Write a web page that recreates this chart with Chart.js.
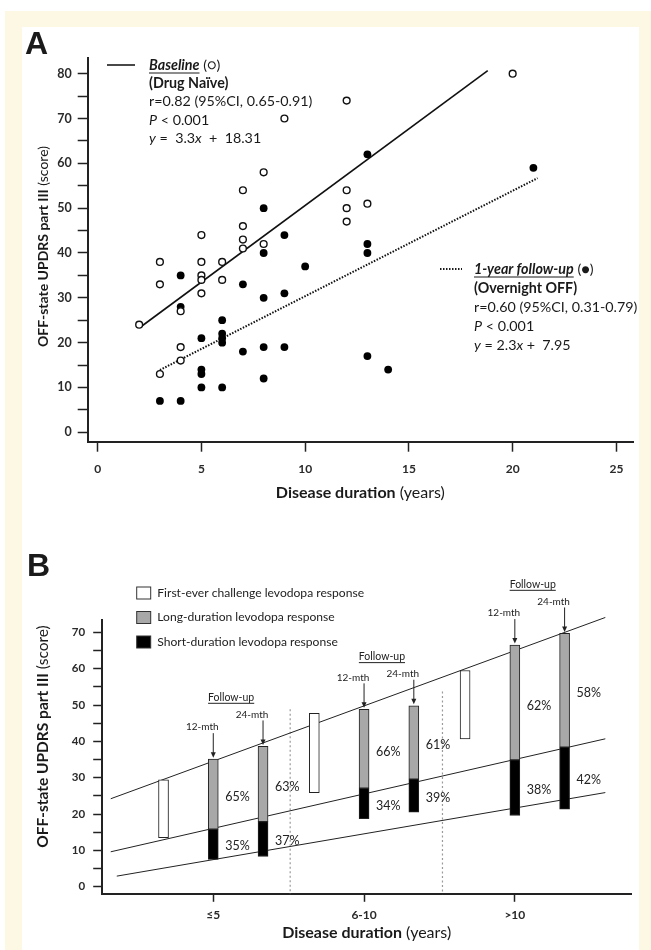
<!DOCTYPE html>
<html lang="en">
<head>
<meta charset="UTF-8" />
<title>OFF-state UPDRS part III vs disease duration</title>
<script src="https://cdn.jsdelivr.net/npm/chart.js@4.4.1/dist/chart.umd.min.js"></script>
<style>
    * { margin: 0; padding: 0; box-sizing: border-box; }
    body { width: 651px; height: 950px; background: #ffffff; position: relative; overflow: hidden; }
    .frame { position: absolute; left: 5px; top: 11px; width: 646px; height: 939px; background: #fdf8e4; }
    .panel { position: absolute; left: 22px; top: 27px; width: 617px; height: 923px; background: #ffffff; }
    #chartA { position: absolute; left: 22px; top: 27px; width: 617px; height: 513px; }
    #chartB { position: absolute; left: 22px; top: 540px; width: 617px; height: 410px; }
</style>
</head>
<body>
<div class="frame"></div>
<div class="panel"></div>
<canvas id="chartA" width="617" height="513"></canvas>
<canvas id="chartB" width="617" height="410"></canvas>
<script>
// ---------- panel A: scatter ----------
const baselineX = [2, 3, 3, 3, 4, 4, 4, 5, 5, 5, 5, 5, 6, 6, 7, 7, 7, 7, 8, 8, 9, 12, 12, 12, 12, 13, 20];
const baselineY = [24, 38, 33, 13, 27, 19, 16, 44, 38, 35, 34, 31, 38, 34, 54, 46, 43, 41, 58, 42, 70, 74, 54, 50, 47, 51, 80];
const followX = [3, 4, 4, 4, 5, 5, 5, 5, 6, 6, 6, 6, 6, 7, 7, 8, 8, 8, 8, 8, 9, 9, 9, 10, 13, 13, 13, 13, 14, 21];
const followY = [7, 7, 28, 35, 10, 13, 14, 21, 10, 20, 21, 22, 25, 18, 33, 12, 19, 30, 40, 50, 19, 31, 44, 37, 17, 40, 42, 62, 14, 59];
const baselineFitX = [2.1, 18.8];
const baselineFitY = [23.6, 80.7];
const followFitX = [3.0, 21.2];
const followFitY = [13.9, 56.7];
const xTicksA = [0, 5, 10, 15, 20, 25];
const yTicksA = [0, 5, 10, 15, 20, 25, 30, 35, 40, 45, 50, 55, 60, 65, 70, 75, 80];

// ---------- panel B: levodopa response bars ----------
const categories = ["≤5", "6-10", ">10"];
const catPos = [1, 2, 3];
const barOffset = [-0.33, 0, 0.33];          // first-ever, 12-mth, 24-mth
const firstEverLow = [13.5, 25.9, 40.7];
const firstEverHigh = [29.4, 47.7, 59.5];
const followLabels = ["12-mth", "24-mth"];
const longHigh = [35.1, 38.6, 48.8, 49.8, 66.5, 69.7];
const longLow = [15.8, 17.9, 27.1, 29.6, 34.9, 38.4];
const shortLow = [7.5, 8.3, 18.7, 20.5, 19.6, 21.3];
const longPct = [65, 63, 66, 61, 62, 58];
const shortPct = [35, 37, 34, 39, 38, 42];
const trendTopX = [0.32, 3.6], trendTopY = [24.2, 74.1];
const trendMidX = [0.32, 3.6], trendMidY = [9.6, 40.7];
const trendLowX = [0.36, 3.6], trendLowY = [2.9, 25.9];
const sepX = [1.51, 2.52];
const sepTop = [48.8, 53.7];
const yTicksB = [0, 5, 10, 15, 20, 25, 30, 35, 40, 45, 50, 55, 60, 65, 70];

const yMinA = -2.1, yMaxA = 83.5, xMinA = -0.48, xMaxA = 25.8;
const yMinB = -2.1, yMaxB = 73.4, xMinB = 0.26, xMaxB = 3.775;

Chart.defaults.font.family = 'Lato, "Open Sans", sans-serif';
Chart.defaults.color = "#333";

const pairs = (xs, ys) => xs.map((x, i) => ({ x: x, y: ys[i] }));
const F = (size, weight = "normal", style = "normal") => `${style} ${weight} ${size}px Lato, "Open Sans", sans-serif`;

// draw a line of text made of runs with their own font (and optional underline)
function drawRuns(ctx, x, y, runs, align) {
    let total = 0;
    runs.forEach(r => { ctx.font = r[1]; total += ctx.measureText(r[0]).width; });
    let cx = align === "center" ? x - total / 2 : x;
    ctx.textAlign = "left";
    ctx.textBaseline = "middle";
    runs.forEach(r => {
        ctx.font = r[1];
        const w = ctx.measureText(r[0]).width;
        ctx.fillText(r[0], cx, y);
        if (r[2]) {
            const size = parseFloat(r[1].split("px")[0].split(" ").pop());
            ctx.lineWidth = 1;
            ctx.beginPath();
            ctx.moveTo(cx, y + size * 0.56);
            ctx.lineTo(cx + w, y + size * 0.56);
            ctx.stroke();
        }
        cx += w;
    });
}

const panelAText = {
    id: "panelAText",
    afterDraw(chart) {
        const ctx = chart.ctx;
        const area = chart.chartArea;
        ctx.save();
        ctx.fillStyle = "#1a1a1a";
        ctx.strokeStyle = "#1a1a1a";
        ctx.font = 'bold 32px "Liberation Sans", Arial, sans-serif';
        ctx.textBaseline = "alphabetic";
        ctx.fillText("A", 3, 26.5);

        // axis titles
        drawRuns(ctx, (area.left + area.right) / 2, 466, [["Disease duration", F(16, "bold")], [" (years)", F(16)]], "center");
        ctx.save();
        ctx.translate(21, 219.5);
        ctx.rotate(-Math.PI / 2);
        drawRuns(ctx, 0, 0, [["OFF-state UPDRS part III", F(14, "bold")], [" (score)", F(14)]], "center");
        ctx.restore();

        // baseline legend
        ctx.lineWidth = 1.6;
        ctx.beginPath(); ctx.moveTo(85, 38); ctx.lineTo(113, 38); ctx.stroke();
        const s = 14.3, lh = 18.3;
        const legA = [
            [["Baseline", F(s, "bold", "italic"), true], [" (○)", F(s)]],
            [["(Drug Naïve)", F(s, "bold")]],
            [["r=0.82 (95%CI, 0.65-0.91)", F(s)]],
            [["P", F(s, "normal", "italic")], [" < 0.001", F(s)]],
            [["y", F(s, "normal", "italic")], [" =  3.3", F(s)], ["x", F(s, "normal", "italic")], ["  +  18.31", F(s)]]
        ];
        legA.forEach((row, i) => drawRuns(ctx, 127, 38 + i * lh, row, "left"));

        // follow-up legend
        ctx.lineWidth = 2;
        ctx.setLineDash([1.5, 1.5]);
        ctx.beginPath(); ctx.moveTo(418, 242); ctx.lineTo(440, 242); ctx.stroke();
        ctx.setLineDash([]);
        const legB = [
            [["1-year follow-up", F(s, "bold", "italic"), true], [" (●)", F(s)]],
            [["(Overnight OFF)", F(s, "bold")]],
            [["r=0.60 (95%CI, 0.31-0.79)", F(s)]],
            [["P", F(s, "normal", "italic")], [" < 0.001", F(s)]],
            [["y", F(s, "normal", "italic")], [" = 2.3", F(s)], ["x", F(s, "normal", "italic")], [" +  7.95", F(s)]]
        ];
        legB.forEach((row, i) => drawRuns(ctx, 452, 242 + i * 19.2, row, "left"));
        ctx.restore();
    }
};

new Chart(document.getElementById("chartA"), {
    type: "scatter",
    data: {
        datasets: [
            {
                label: "Baseline",
                data: pairs(baselineX, baselineY),
                pointRadius: 3.4,
                backgroundColor: "#ffffff",
                borderColor: "#111",
                borderWidth: 1.4
            },
            {
                label: "1-year follow-up",
                data: pairs(followX, followY),
                pointRadius: 3.9,
                backgroundColor: "#000",
                borderColor: "#000",
                borderWidth: 0
            },
            {
                label: "Baseline fit",
                data: pairs(baselineFitX, baselineFitY),
                showLine: true,
                pointRadius: 0,
                borderColor: "#111",
                borderWidth: 1.6
            },
            {
                label: "Follow-up fit",
                data: pairs(followFitX, followFitY),
                showLine: true,
                pointRadius: 0,
                borderColor: "#111",
                borderWidth: 2,
                borderDash: [1.5, 1.5]
            }
        ]
    },
    options: {
        responsive: false,
        animation: false,
        layout: { padding: { top: 31, right: 6, left: 0, bottom: 0 } },
        plugins: { legend: { display: false }, tooltip: { enabled: false } },
        scales: {
            x: {
                type: "linear",
                min: xMinA,
                max: xMaxA,
                afterBuildTicks: (s) => { s.ticks = xTicksA.map(v => ({ value: v })); },
                afterFit: (s) => { s.height = 513 - 414.7; },
                grid: { drawOnChartArea: false, tickLength: 10, tickWidth: 1.5, color: "#222" },
                border: { color: "#222", width: 2 },
                ticks: { font: { size: 12, weight: "bold" }, color: "#2a2a2a", padding: 10, maxRotation: 0, autoSkip: false }
            },
            y: {
                min: yMinA,
                max: yMaxA,
                afterBuildTicks: (s) => { s.ticks = yTicksA.map(v => ({ value: v })); },
                afterFit: (s) => { s.width = 65.7; },
                grid: { drawOnChartArea: false, tickLength: 10, tickWidth: 1.5, color: "#222" },
                border: { color: "#222", width: 2 },
                ticks: {
                    font: { size: 12.5, weight: "bold" }, color: "#2a2a2a", padding: 6, autoSkip: false,
                    callback: (v) => (v % 10 === 0 ? v : "")
                }
            }
        }
    },
    plugins: [panelAText]
});

// ---------- panel B ----------
const followBarX = longHigh.map((_, i) => catPos[Math.floor(i / 2)] + barOffset[(i % 2) + 1]);

const panelBText = {
    id: "panelBText",
    afterDraw(chart) {
        const ctx = chart.ctx;
        const area = chart.chartArea;
        const xs = chart.scales.x, ys = chart.scales.y;
        ctx.save();
        ctx.fillStyle = "#1a1a1a";
        ctx.strokeStyle = "#1a1a1a";
        ctx.font = 'bold 32px "Liberation Sans", Arial, sans-serif';
        ctx.textBaseline = "alphabetic";
        ctx.fillText("B", 5, 36);

        drawRuns(ctx, (area.left + area.right) / 2, 393, [["Disease duration", F(16, "bold")], [" (years)", F(16)]], "center");
        ctx.save();
        ctx.translate(21, 196.5);
        ctx.rotate(-Math.PI / 2);
        drawRuns(ctx, 0, 0, [["OFF-state UPDRS part III", F(15.5, "bold")], [" (score)", F(15.5)]], "center");
        ctx.restore();

        // legend
        const leg = [["#ffffff", "First-ever challenge levodopa response"],
                     ["#a8a8a8", "Long-duration levodopa response"],
                     ["#000000", "Short-duration levodopa response"]];
        leg.forEach((l, i) => {
            const y = 53 + i * 24.5;
            ctx.fillStyle = l[0];
            ctx.fillRect(114.7, y - 6, 14, 12);
            ctx.lineWidth = 1;
            ctx.strokeStyle = "#333";
            ctx.strokeRect(114.7, y - 6, 14, 12);
            ctx.fillStyle = "#222";
            drawRuns(ctx, 135.3, y, [[l[1], F(12.1)]], "left");
        });

        // follow-up annotations, arrows and percentages
        ctx.fillStyle = "#222";
        ctx.strokeStyle = "#222";
        const labelY = [];
        longHigh.forEach((hi, i) => {
            const px = xs.getPixelForValue(followBarX[i]);
            const top = ys.getPixelForValue(hi);
            const ty = top - 32;
            labelY.push(ty);
            drawRuns(ctx, px - 11, ty, [[followLabels[i % 2], F(10)]], "center");
            ctx.lineWidth = 1;
            ctx.beginPath(); ctx.moveTo(px, top - 26); ctx.lineTo(px, top - 6); ctx.stroke();
            ctx.beginPath(); ctx.moveTo(px - 2.5, top - 7); ctx.lineTo(px + 2.5, top - 7); ctx.lineTo(px, top - 1.5); ctx.closePath(); ctx.fill();

            const gMid = ys.getPixelForValue((hi + longLow[i]) / 2);
            const bMid = ys.getPixelForValue((longLow[i] + shortLow[i]) / 2);
            drawRuns(ctx, px + 12, gMid + 3, [[longPct[i] + "%", F(12.5)]], "left");
            drawRuns(ctx, px + 12, bMid + 2, [[shortPct[i] + "%", F(12.5)]], "left");
        });
        catPos.forEach((c, g) => {
            const x1 = xs.getPixelForValue(followBarX[g * 2]);
            const x2 = xs.getPixelForValue(followBarX[g * 2 + 1]);
            const y = Math.min(labelY[g * 2], labelY[g * 2 + 1]) - 17;
            drawRuns(ctx, (x1 + x2) / 2 - 7, y, [["Follow-up", F(10.5), true]], "center");
        });
        ctx.restore();
    }
};

const barStyle = { borderColor: "#222", borderWidth: 1, borderSkipped: false, barThickness: 10, grouped: false };

new Chart(document.getElementById("chartB"), {
    type: "bar",
    data: {
        datasets: [
            Object.assign({
                label: "First-ever challenge levodopa response",
                data: firstEverLow.map((lo, g) => ({ x: catPos[g] + barOffset[0], y: [lo, firstEverHigh[g]] })),
                backgroundColor: "#ffffff"
            }, barStyle),
            Object.assign({
                label: "Long-duration levodopa response",
                data: longHigh.map((hi, i) => ({ x: followBarX[i], y: [longLow[i], hi] })),
                backgroundColor: "#a8a8a8"
            }, barStyle),
            Object.assign({
                label: "Short-duration levodopa response",
                data: longLow.map((hi, i) => ({ x: followBarX[i], y: [shortLow[i], hi] })),
                backgroundColor: "#000000"
            }, barStyle),
            { type: "line", label: "top", data: pairs(trendTopX, trendTopY), borderColor: "#222", borderWidth: 1, pointRadius: 0, clip: false },
            { type: "line", label: "mid", data: pairs(trendMidX, trendMidY), borderColor: "#222", borderWidth: 1, pointRadius: 0 },
            { type: "line", label: "low", data: pairs(trendLowX, trendLowY), borderColor: "#222", borderWidth: 1, pointRadius: 0 },
            ...sepX.map((x, i) => ({
                type: "line", label: "sep" + i, data: [{ x: x, y: sepTop[i] }, { x: x, y: yMinB }],
                borderColor: "#9a9a9a", borderWidth: 1.2, borderDash: [2, 2.5], pointRadius: 0
            }))
        ]
    },
    options: {
        responsive: false,
        animation: false,
        layout: { padding: { top: 80, right: 7.3, left: 0, bottom: 0 } },
        plugins: { legend: { display: false }, tooltip: { enabled: false } },
        scales: {
            x: {
                type: "linear",
                min: xMinB,
                max: xMaxB,
                offset: false,
                afterBuildTicks: (s) => { s.ticks = catPos.map(v => ({ value: v })); },
                afterFit: (s) => { s.height = 410 - 354.3; },
                grid: { offset: false, drawOnChartArea: false, tickLength: 7.5, tickWidth: 1.5, color: "#222" },
                border: { color: "#222", width: 2 },
                ticks: {
                    font: { size: 12, weight: "bold" }, color: "#2a2a2a", padding: 6, maxRotation: 0, autoSkip: false,
                    callback: (v) => categories[catPos.indexOf(v)]
                }
            },
            y: {
                min: yMinB,
                max: yMaxB,
                afterBuildTicks: (s) => { s.ticks = yTicksB.map(v => ({ value: v })); },
                afterFit: (s) => { s.width = 79.7; },
                grid: { drawOnChartArea: false, tickLength: 8.5, tickWidth: 1.5, color: "#222" },
                border: { color: "#222", width: 2 },
                ticks: {
                    font: { size: 11.5, weight: "bold" }, color: "#2a2a2a", padding: 8, autoSkip: false,
                    callback: (v) => (v % 10 === 0 ? v : "")
                }
            }
        }
    },
    plugins: [panelBText]
});
</script>
</body>
</html>
